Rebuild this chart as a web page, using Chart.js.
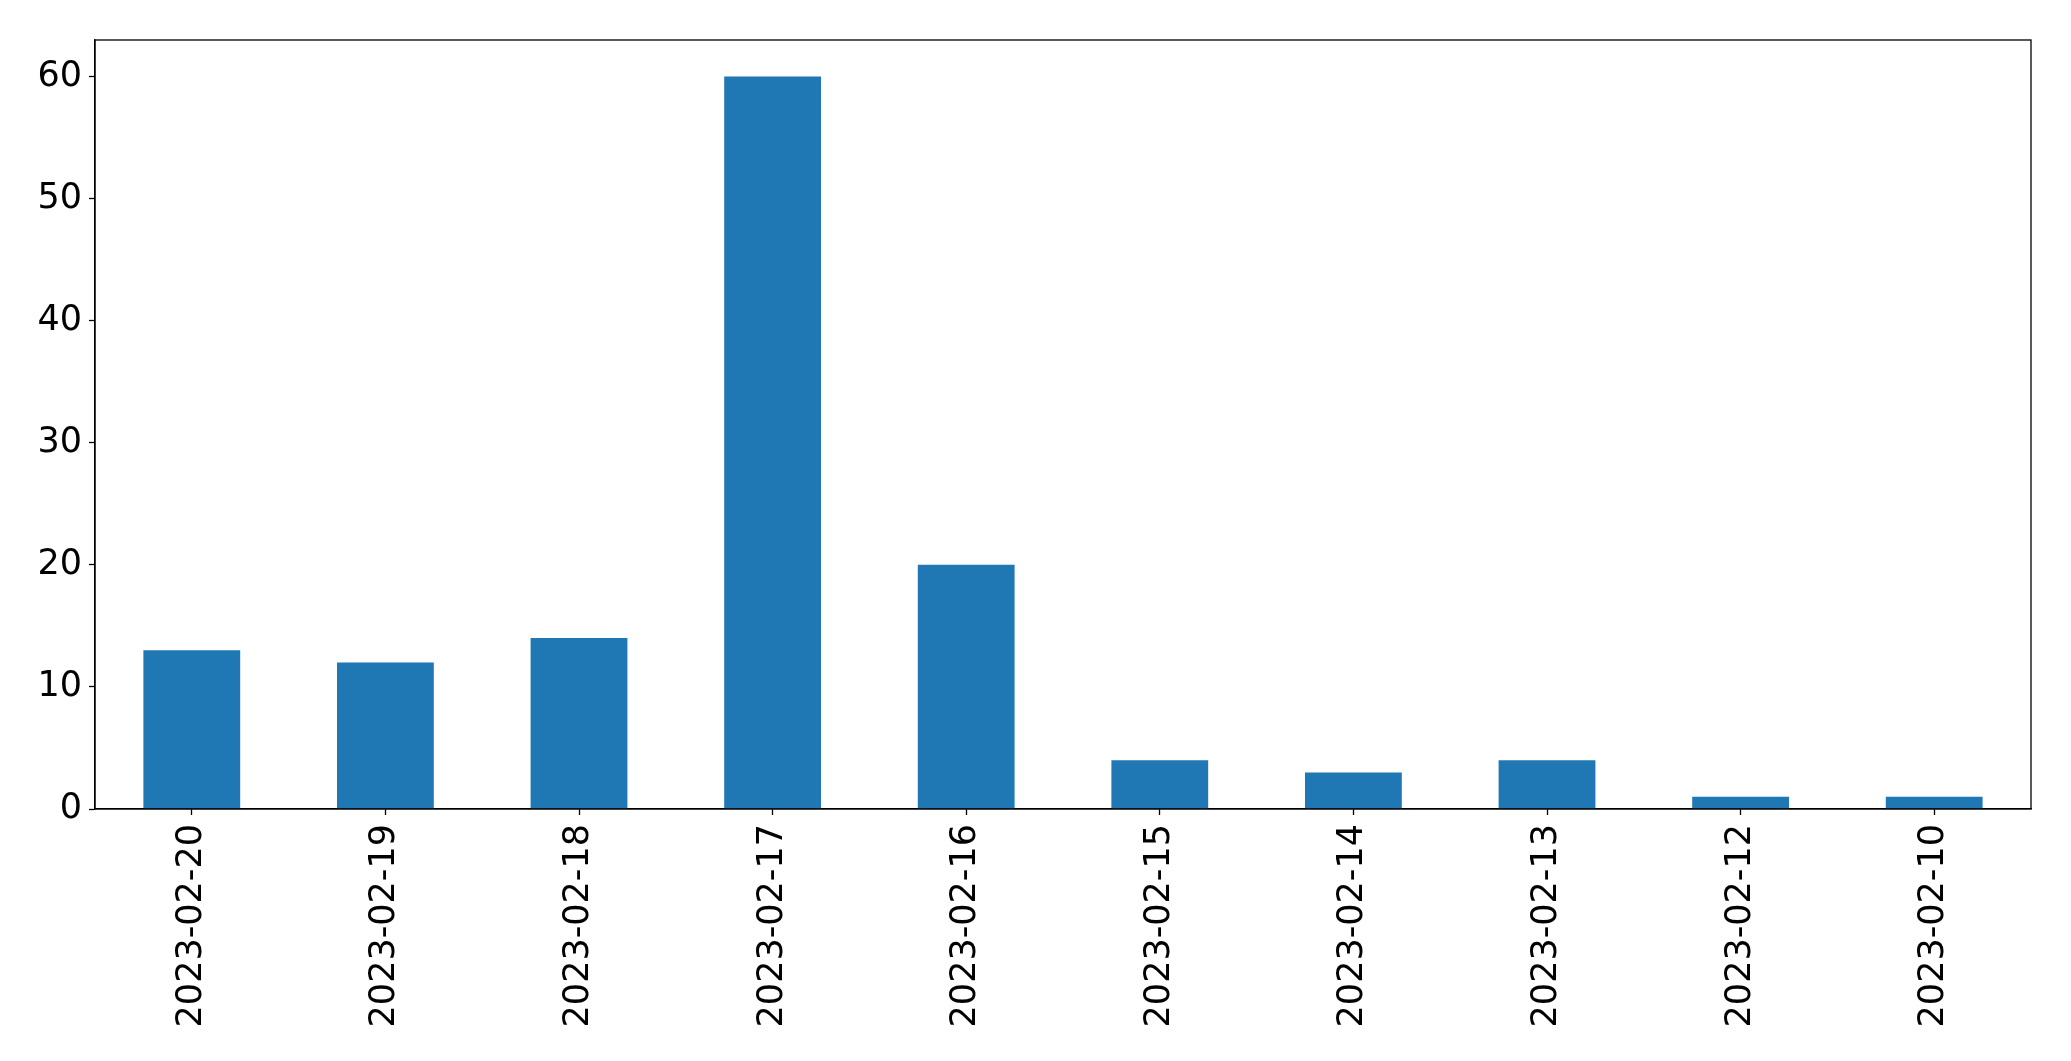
<!DOCTYPE html>
<html>
<head>
<meta charset="utf-8">
<script src="https://cdn.jsdelivr.net/npm/chart.js@4.4.0/dist/chart.umd.min.js"></script>
<style>
  html, body { margin: 0; padding: 0; background: #fff; }
</style>
</head>
<body>
<canvas id="chart" width="2071" height="1061"></canvas>
<script>
// dates as shown on the x axis (left to right)
var dates = ["2023-02-20", "2023-02-19", "2023-02-18", "2023-02-17", "2023-02-16",
             "2023-02-15", "2023-02-14", "2023-02-13", "2023-02-12", "2023-02-10"];
var counts = [13, 12, 14, 60, 20, 4, 3, 4, 1, 1];
var yTicks = [0, 10, 20, 30, 40, 50, 60];

// box around the plot area, like matplotlib's spines
var frame = {
  id: "frame",
  afterDraw: function (chart) {
    var a = chart.chartArea, c = chart.ctx;
    c.save();
    c.strokeStyle = "#000";
    c.lineWidth = 1.3;
    c.strokeRect(a.left, a.top, a.right - a.left, a.bottom - a.top);
    c.restore();
  }
};

var ctx = document.getElementById("chart");
var myChart = new Chart(ctx, {
  type: "bar",
  data: {
    labels: dates,
    datasets: [
      {
        data: counts,
        backgroundColor: "#1f77b4",
        barPercentage: 0.5,
        categoryPercentage: 1.0,
      },
    ],
  },
  options: {
    responsive: false,
    animation: false,
    layout: { padding: { top: 40, right: 40, left: 0, bottom: 0 } },
    plugins: {
      legend: { display: false },
      tooltip: { enabled: false },
    },
    scales: {
      x: {
        grid: { offset: false, drawOnChartArea: false, tickLength: 6, tickColor: "#000", tickWidth: 1.3 },
        border: { display: true, color: "#000", width: 1.3 },
        ticks: {
          color: "#000",
          font: { family: "DejaVu Sans", size: 35 },
          maxRotation: 90,
          minRotation: 90,
          padding: 9,
          autoSkip: false,
        },
        afterFit: function (scale) { scale.height = 252; },
      },
      y: {
        min: 0,
        max: 63,
        grid: { drawOnChartArea: false, tickLength: 6, tickColor: "#000", tickWidth: 1.3 },
        border: { display: true, color: "#000", width: 1.3 },
        ticks: {
          color: "#000",
          stepSize: 10,
          padding: 7,
          font: { family: "DejaVu Sans", size: 35 },
        },
        afterBuildTicks: function (scale) {
          scale.ticks = yTicks.map(function (v) { return { value: v }; });
        },
        afterFit: function (scale) { scale.width = 95; },
      },
    },
  },
  plugins: [frame],
});
</script>
</body>
</html>
